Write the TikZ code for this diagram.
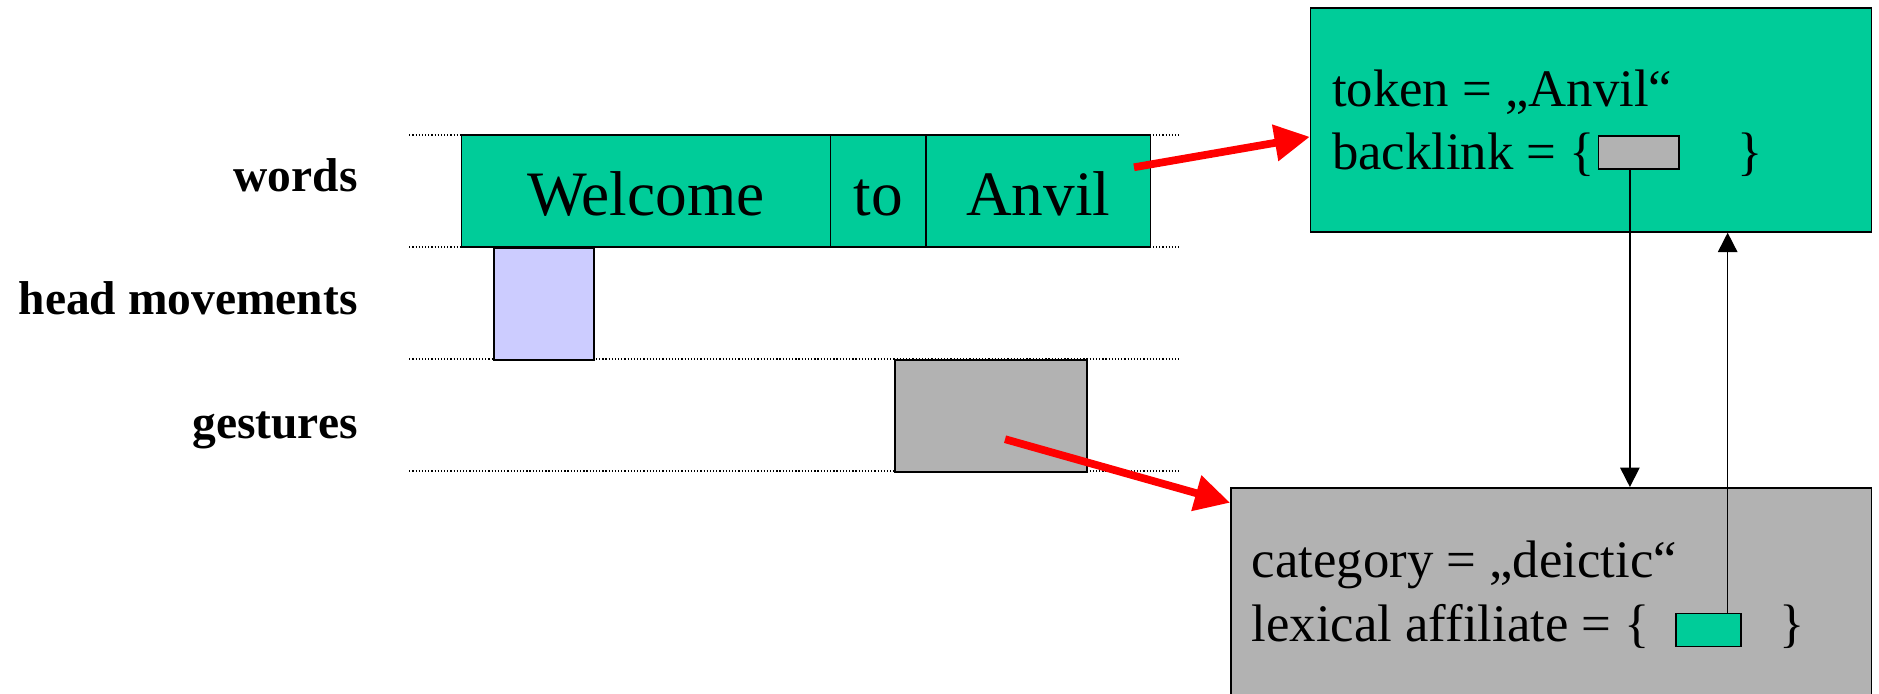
\documentclass[tikz,border=0pt]{standalone}
\usepackage{fontspec}
\setmainfont{Liberation Serif}
\usepackage{tikz}
\usetikzlibrary{arrows.meta,positioning,calc}
\definecolor{anvgreen}{HTML}{00CC99}
\definecolor{anvlilac}{HTML}{CCCCFF}
\definecolor{anvgray}{HTML}{B2B2B2}
\definecolor{anvred}{HTML}{FF0000}
\tikzset{
  tier/.style={anchor=base east, inner sep=0pt, font=\fontsize{13.5}{16}\selectfont\bfseries},
  guide/.style={line width=0.5pt, dash pattern=on 0.35pt off 0.55pt},
  wordcell/.style={draw, fill=anvgreen, line width=0.45pt, inner sep=0pt, outer sep=0pt,
    minimum height=1.118cm, text height=14pt, text depth=0pt, font=\fontsize{18}{21.6}\selectfont},
  tierbox/.style={draw, line width=0.45pt, inner sep=0pt, anchor=north west},
  attr/.style={anchor=base west, inner sep=0pt, font=\fontsize{15}{18}\selectfont},
  slot/.style={draw, line width=0.45pt, inner sep=0pt, anchor=north west, minimum height=0.33cm},
  redarrow/.style={-{Triangle[length=10pt,width=10pt]}, line width=2.2pt, draw=anvred},
  linkarrow/.style={-{Triangle[length=5.5pt,width=5.5pt]}, line width=0.45pt, draw=black},
}

\begin{document}
\begin{tikzpicture}[x=0.011983cm, y=-0.011983cm]
\path[use as bounding box] (0,0) rectangle (1568,579);
\clip (0,0) rectangle (1568,579);

% ---------- tiers ----------
\foreach \y in {112.7, 206.2, 299.6, 393}{
  \draw[guide] (341.5,\y) -- (985,\y);
}
\foreach \i/\y/\lab in {1/159.4/words, 2/262.3/head movements, 3/365.8/gestures}{
  \node[tier] (tier\i) at (299,\y) {\lab};
}

% words
\node[wordcell, anchor=north west, minimum width=3.689cm] (w1) at (385,112.7) {Welcome};
\node[wordcell, right=0pt of w1, minimum width=0.954cm] (w2) {to};
\node[wordcell, right=0pt of w2, minimum width=2.244cm] (w3) {Anvil};

% head movements and gestures
\node[tierbox, fill=anvlilac, minimum width=0.996cm, minimum height=1.12cm] (hm) at (411.7,206.2) {};
\node[tierbox, fill=anvgray, minimum width=1.922cm, minimum height=1.119cm] (gs) at (746,299.6) {};

% ---------- token object ----------
\node[tierbox, fill=anvgreen, minimum width=5.608cm, minimum height=2.238cm] (tokbox) at (1093,6) {};
\node[attr] (tok1) at (1111,88.5) {token = „Anvil“};
\node[attr] (tok2) at (1111,141.3) {backlink = \{};
\node[slot, fill=anvgray, minimum width=0.805cm] (blink) at (1333.4,112.7) {};
\node[attr] (tok3) at (1449,141.3) {\}};

% ---------- gesture object ----------
\node[tierbox, fill=anvgray, minimum width=6.405cm, minimum height=2.8cm] (gesbox) at (1026.5,406.4) {};
\node[attr] (ges1) at (1044,481.8) {category = „deictic“};
\node[attr] (ges2) at (1044,535.5) {lexical affiliate = \{};
\node[slot, fill=anvgreen, minimum width=0.647cm] (lexl) at (1398,511.3) {};
\node[attr] (ges3) at (1484,535.5) {\}};

% ---------- links ----------
\coordinate (anvtail) at (946.3,139.6);
\coordinate (gtail) at (838.7,366.5);
\draw[redarrow] (anvtail) -- ([yshift=-0.169cm]tokbox.west);
\draw[redarrow] (gtail) -- ([yshift=-0.157cm]gesbox.north west);

\coordinate (bdrop) at ($(blink.south west)!0.39!(blink.south east)$);
\coordinate (lrise) at ($(lexl.north west)!0.79!(lexl.north east)$);
\draw[linkarrow] (bdrop) -- (bdrop |- gesbox.north);
\draw[linkarrow] (lrise) -- (lrise |- tokbox.south);
\end{tikzpicture}
\end{document}
